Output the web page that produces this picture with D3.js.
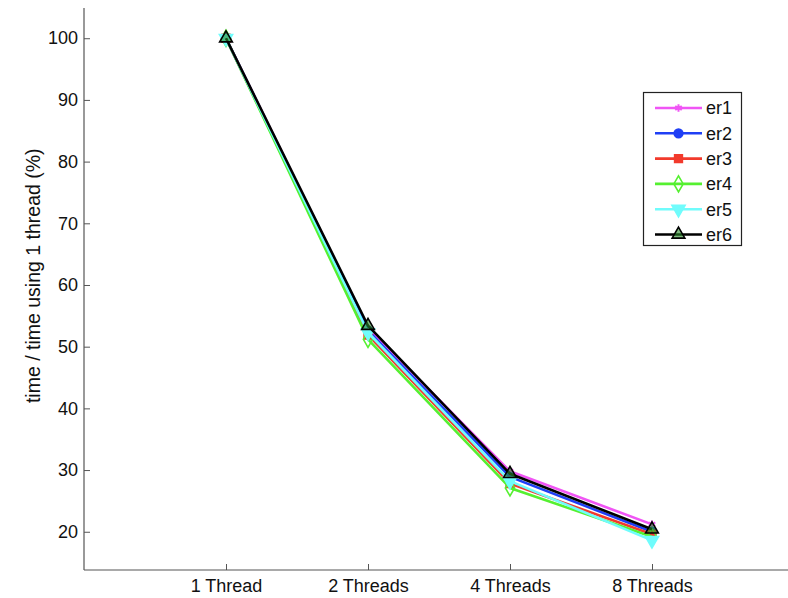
<!DOCTYPE html>
<html>
<head>
<meta charset="utf-8">
<script src="https://cdn.jsdelivr.net/npm/d3@7"></script>
<style>
  html, body { margin: 0; padding: 0; background: #fff; }
  svg { display: block; font-family: "Liberation Sans", Arial, Helvetica, sans-serif; }
</style>
</head>
<body>
<svg id="chart" width="788" height="598"></svg>
<script>
// Thread counts on the x axis
const categories = ["1 Thread", "2 Threads", "4 Threads", "8 Threads"];

// Run time relative to the single-thread run (%)
const er1 = [100, 53.0, 29.8, 21.2];
const er2 = [100, 52.6, 28.9, 20.0];
const er3 = [100, 51.9, 27.8, 19.6];
const er4 = [100, 51.2, 27.1, 19.2];
const er5 = [100, 52.3, 28.2, 18.6];
const er6 = [100, 53.4, 29.4, 20.4];

const seriesNames = ["er1", "er2", "er3", "er4", "er5", "er6"];
const seriesValues = [er1, er2, er3, er4, er5, er6];

const yTicks = [20, 30, 40, 50, 60, 70, 80, 90, 100];

const colors = ["#f055f5", "#1f3ff5", "#f23a2c", "#55f030", "#70fcfc", "#000000"];
const markers = [
  { type: d3.symbolAsterisk, size: 40, fill: false },
  { type: d3.symbolCircle, size: 60, fill: true },
  { type: d3.symbolSquare, size: 60, fill: true },
  { type: d3.symbolDiamond, size: 75, fill: false },
  { type: d3.symbolTriangle, size: 75, fill: true, rotate: 180 },
  { type: d3.symbolTriangle, size: 70, fill: false }
];

const svg = d3.select("#chart");
const plotLeft = 84, plotBottom = 570, plotTop = 8;

const x = d3.scaleLinear().domain([0, categories.length + 1]).range([plotLeft, plotLeft + 142 * 5]);
const y = d3.scaleLinear().domain([13.8, 104.9]).range([plotBottom, plotTop]);

const axisColor = "#555";
const textColor = "#111";
const tickFont = "18px";

// Y axis with inward ticks
const yAxis = svg.append("g").attr("transform", `translate(${plotLeft},0)`)
  .call(d3.axisRight(y).tickValues(yTicks).tickSize(6).tickFormat(d3.format("d")));
yAxis.select(".domain").remove();
yAxis.selectAll(".tick line").attr("stroke", axisColor);
yAxis.selectAll(".tick text")
  .attr("x", -6).attr("text-anchor", "end")
  .attr("fill", textColor).style("font-size", tickFont)
  .style("font-family", "Liberation Sans, Arial, sans-serif");
svg.append("line").attr("x1", plotLeft).attr("x2", plotLeft).attr("y1", plotTop).attr("y2", plotBottom)
  .attr("stroke", axisColor).attr("stroke-width", 1.2);

// X axis with inward ticks
const xAxis = svg.append("g").attr("transform", `translate(0,${plotBottom})`)
  .call(d3.axisTop(x).tickValues(d3.range(1, categories.length + 1)).tickSize(6)
    .tickFormat(i => categories[i - 1]));
xAxis.select(".domain").remove();
xAxis.selectAll(".tick line").attr("stroke", axisColor);
xAxis.selectAll(".tick text")
  .attr("y", 22).attr("dy", 0)
  .attr("fill", textColor).style("font-size", tickFont)
  .style("font-family", "Liberation Sans, Arial, sans-serif");
svg.append("line").attr("x1", plotLeft).attr("x2", 788).attr("y1", plotBottom).attr("y2", plotBottom)
  .attr("stroke", axisColor).attr("stroke-width", 1.2);

// Y axis title
svg.append("text")
  .attr("transform", `translate(40,${y(61.5)}) rotate(-90)`)
  .attr("text-anchor", "middle")
  .attr("fill", textColor)
  .style("font-size", "19.5px")
  .text("time / time using 1 thread (%)");

// Series lines and markers
const line = d3.line().x((d, i) => x(i + 1)).y(d => y(d));

function drawMarker(g, k, cx, cy) {
  const m = markers[k];
  g.append("path")
    .attr("d", d3.symbol().type(m.type).size(m.size)())
    .attr("transform", `translate(${cx},${cy}) rotate(${m.rotate || 0})`)
    .attr("fill", m.fill ? colors[k] : (k === 5 ? "#2a8a2a" : "none"))
    .attr("fill-opacity", m.fill ? 1 : 0.6)
    .attr("stroke", colors[k])
    .attr("stroke-width", k === 0 ? 2 : 1.6);
}

seriesValues.forEach((vals, k) => {
  const g = svg.append("g");
  g.append("path").datum(vals)
    .attr("d", line)
    .attr("fill", "none")
    .attr("stroke", colors[k])
    .attr("stroke-width", 2.6)
    .attr("stroke-linejoin", "round");
  vals.forEach((v, i) => drawMarker(g, k, x(i + 1), y(v)));
});

// Legend
const lg = svg.append("g");
lg.append("rect").attr("x", 643.5).attr("y", 92.5).attr("width", 98).attr("height", 153)
  .attr("fill", "#fff").attr("stroke", "#222").attr("stroke-width", 1.2);
seriesNames.forEach((name, k) => {
  const ly = 108 + k * 25.3;
  lg.append("line").attr("x1", 655).attr("x2", 702).attr("y1", ly).attr("y2", ly)
    .attr("stroke", colors[k]).attr("stroke-width", 2.6);
  drawMarker(lg, k, 678.5, ly);
  lg.append("text").attr("x", 706).attr("y", ly).attr("dy", "0.36em")
    .attr("fill", textColor).style("font-size", "18px").text(name);
});
</script>
</body>
</html>
